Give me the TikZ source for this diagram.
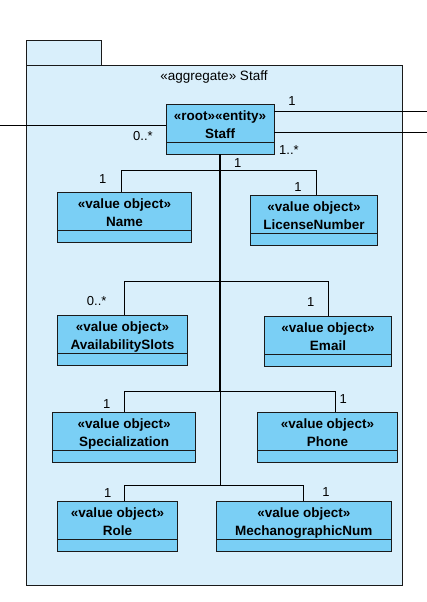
\documentclass[tikz,border=0pt]{standalone}
\usepackage{fontspec}
\setmainfont{Liberation Sans}
\usetikzlibrary{positioning}
\definecolor{cfill}{HTML}{7ACFF5}
\definecolor{cpkg}{HTML}{D9EFFB}
\definecolor{cline}{HTML}{1A1A1A}
\tikzset{
  every picture/.style={line width=1pt},
  cls/.style={draw=cline, fill=cfill, align=center, inner sep=0pt, outer sep=0pt, minimum height=38pt, font=\fontsize{13.5}{18.4}\selectfont\bfseries},
  attr/.style={draw=cline, fill=cfill, inner sep=0pt, outer sep=0pt, minimum height=12pt},
  assoc/.style={draw=black, line width=1pt},
  trunk/.style={draw=black, line width=2.4pt},
  mult/.style={font=\fontsize{13}{15}\selectfont, inner sep=0pt},
  pkg/.style={draw=cline, fill=cpkg},
  title/.style={font=\fontsize{13.5}{16}\selectfont, inner sep=0pt},
}
\newcommand{\twolines}[2]{\rule{0pt}{15.9pt}#1\\#2\rule[-3.5pt]{0pt}{3.5pt}}
\newcommand{\vobj}[5]{%
  \node[cls, minimum width=#4pt, anchor=north west] (#1) at (#2,#3) {\twolines{«value object»}{#5}};
  \node[attr, minimum width=#4pt, anchor=north] (#1-a) at (#1.south) {};}

\begin{document}
\begin{tikzpicture}[x=1pt,y=-1pt]
  \useasboundingbox (0,0) rectangle (427,602);
  % package
  \draw[pkg] (26,41) rectangle (101,66);
  \draw[pkg] (26,66) rectangle (402,585);
  \node[title] (pkgtitle) at (214,77.5) {«aggregate» Staff};
  % root entity
  \node[cls, minimum width=108pt, anchor=north west] (staff) at (166,104) {\twolines{«root»«entity»}{Staff}};
  \node[attr, minimum width=108pt, anchor=north] (staff-a) at (staff.south) {};
  % links leaving the package
  \coordinate (outl) at (0,125);
  \coordinate (outr1) at (427,111);
  \coordinate (outr2) at (427,132.3);
  \draw[assoc] (outl) -- (outl -| staff.west);
  \draw[assoc] (staff.east |- outr1) -- (outr1);
  \draw[assoc] (staff.east |- outr2) -- (outr2);
  \node[mult] (m0a) at (143,136) {0..*};
  \node[mult] (m0b) at (292,101) {1};
  \node[mult] (m0c) at (289,150) {1..*};
  % value objects
  \vobj{name}{57.3}{192.3}{134.4}{Name}
  \vobj{license}{250.3}{195.3}{127.4}{LicenseNumber}
  \vobj{slots}{57.7}{315.3}{129.6}{AvailabilitySlots}
  \vobj{email}{264.3}{316.3}{127.4}{Email}
  \vobj{spec}{52.7}{412.3}{143}{Specialization}
  \vobj{phone}{257.3}{412.3}{140.4}{Phone}
  \vobj{role}{57.3}{501.3}{120.4}{Role}
  \vobj{mecha}{216.3}{501.3}{175}{MechanographicNum}
  % associations
  \coordinate (b1) at (220,170.7);
  \coordinate (b2) at (220,281.7);
  \coordinate (b3) at (220,391.7);
  \coordinate (b4) at (220,485);
  \draw[assoc] (staff-a.south) |- (b1) -| ([xshift=-3.2pt]name.north);
  \draw[assoc] (staff-a.south) |- (b1) -| ([xshift=2.3pt]license.north);
  \draw[assoc] (staff-a.south) |- (b2) -| ([xshift=1.8pt]slots.north);
  \draw[assoc] (staff-a.south) |- (b2) -| (email.north);
  \draw[assoc] (staff-a.south) |- (b3) -| (spec.north);
  \draw[assoc] (staff-a.south) |- (b3) -| ([xshift=7.8pt]phone.north);
  \draw[assoc] (staff-a.south) |- (b4) -| ([xshift=6.8pt]role.north);
  \draw[assoc] (staff-a.south) |- (b4) -| (mecha.north);
  \draw[trunk] (staff-a.south) -- (b3);
  % multiplicities
  \node[mult] (m1) at (237.7,163) {1};
  \node[mult] (m2) at (102.7,179) {1};
  \node[mult] (m3) at (298,187) {1};
  \node[mult] (m4) at (96.7,300.7) {0..*};
  \node[mult] (m5) at (310.7,302.3) {1};
  \node[mult] (m6) at (106.7,404) {1};
  \node[mult] (m7) at (343.3,399.3) {1};
  \node[mult] (m8) at (107.7,493.3) {1};
  \node[mult] (m9) at (326,492.3) {1};
\end{tikzpicture}
\end{document}
